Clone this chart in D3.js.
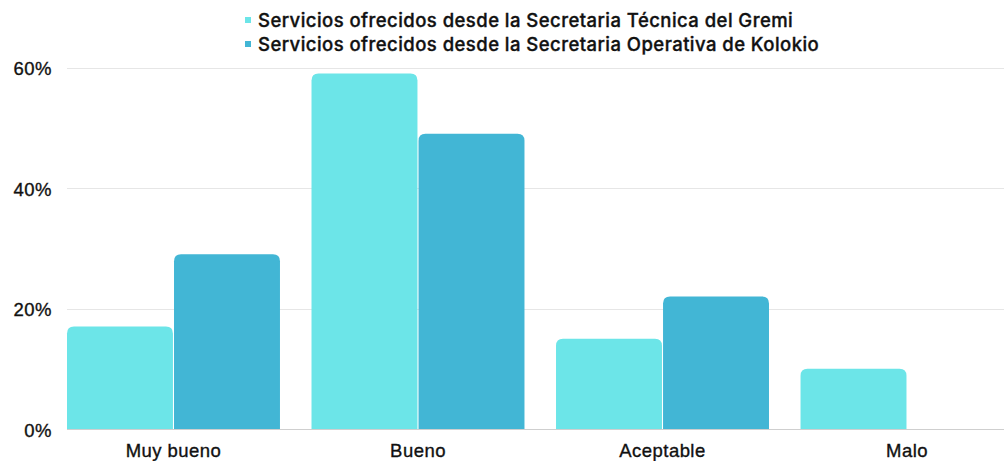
<!DOCTYPE html>
<html>
<head>
<meta charset="utf-8">
<script src="https://cdn.jsdelivr.net/npm/d3@7"></script>
<style>
  html, body { margin: 0; padding: 0; background: #fff; }
  svg { display: block; font-family: "Inter", "Open Sans", sans-serif; }
  .lbl { font-size: 18.5px; font-weight: 500; fill: #111; stroke: #111; stroke-width: 0.35px; letter-spacing: 0.45px; }
</style>
</head>
<body>
<svg id="chart" width="1004" height="461"></svg>
<script>
// Rating categories and the share of answers per service (percent)
const categories = ["Muy bueno", "Bueno", "Aceptable", "Malo"];
const seriesNames = [
  "Servicios ofrecidos desde la Secretaria Técnica del Gremi",
  "Servicios ofrecidos desde la Secretaria Operativa de Kolokio"
];
const tecnica = [17, 59, 15, 10];
const operativa = [29, 49, 22, 0];
const yTicks = [0, 20, 40, 60];
const colors = ["#6ce5e8", "#42b6d5"];

const svg = d3.select("#chart");
const W = 1004;
const plot = { left: 67, right: W, top: 67.5, bottom: 429 };

const y = d3.scaleLinear().domain([0, 60]).range([plot.bottom, plot.top]);
const x0 = d3.scaleBand().domain(categories)
  .range([plot.left, 1013.5]).paddingInner(0.129).paddingOuter(0);
const x1 = d3.scaleBand().domain([0, 1])
  .range([0, x0.bandwidth()]).paddingInner(0.01);

// Horizontal grid lines
svg.append("g")
  .selectAll("line")
  .data(yTicks.filter(t => t > 0))
  .join("line")
  .attr("x1", plot.left).attr("x2", plot.right)
  .attr("y1", d => Math.round(y(d)) + 0.5).attr("y2", d => Math.round(y(d)) + 0.5)
  .attr("stroke", "#e6e6e6").attr("stroke-width", 1);

// Y axis labels
const yAxis = d3.axisLeft(y).tickValues(yTicks).tickFormat(d => d + "%").tickSize(0).tickPadding(0);
const gy = svg.append("g").attr("transform", `translate(52,0)`).call(yAxis);
gy.select(".domain").remove();
gy.selectAll("text").attr("class", "lbl").attr("font-family", null).attr("font-size", null)
  .attr("dy", 7);

// Top-rounded bar path
function barPath(x, yTop, w, h, r) {
  if (h <= 0) return "";
  r = Math.min(r, h, w / 2);
  return `M${x},${yTop + h}V${yTop + r}Q${x},${yTop} ${x + r},${yTop}` +
         `H${x + w - r}Q${x + w},${yTop} ${x + w},${yTop + r}V${yTop + h}Z`;
}

const rows = categories.map((c, i) => ({ cat: c, vals: [tecnica[i], operativa[i]] }));
svg.append("g")
  .selectAll("g")
  .data(rows)
  .join("g")
  .attr("transform", d => `translate(${x0(d.cat)},0)`)
  .selectAll("path")
  .data(d => d.vals.map((v, s) => ({ v, s })))
  .join("path")
  .attr("d", d => barPath(x1(d.s), y(d.v), x1.bandwidth(), y(0) - y(d.v), 7))
  .attr("fill", d => colors[d.s]);

// Baseline
svg.append("line")
  .attr("x1", plot.left).attr("x2", plot.right)
  .attr("y1", plot.bottom + 0.5).attr("y2", plot.bottom + 0.5)
  .attr("stroke", "#cfcfcf");

// X axis labels (baseline at 457)
const xAxis = d3.axisBottom(x0).tickSize(0).tickPadding(0);
const gx = svg.append("g").attr("transform", `translate(0,457)`).call(xAxis);
gx.select(".domain").remove();
gx.selectAll("text").attr("y", 0).attr("dy", 0).attr("class", "lbl")
  .attr("font-family", null).attr("font-size", null);

// Legend
const legend = svg.append("g").attr("transform", "translate(245,0)");
const items = legend.selectAll("g").data(seriesNames).join("g")
  .attr("transform", (d, i) => `translate(0,${27 + i * 24})`);
items.append("rect").attr("x", 0).attr("y", -10).attr("width", 6).attr("height", 6)
  .attr("fill", (d, i) => colors[i]);
items.append("text").attr("x", 13).attr("y", 0).attr("class", "lbl")
  .text(d => d);
</script>
</body>
</html>
